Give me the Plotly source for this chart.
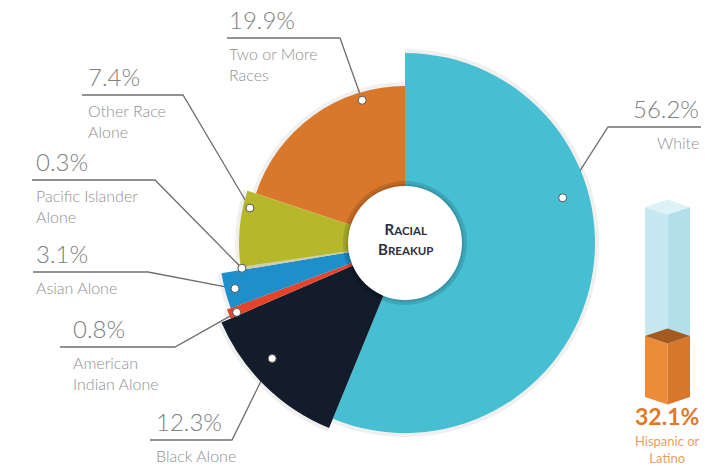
import math
import plotly.graph_objects as go

# ---------------- data ----------------
categories = ["White", "Black Alone", "American Indian Alone", "Asian Alone",
              "Pacific Islander Alone", "Other Race Alone", "Two or More Races"]
percents = [56.2, 12.3, 0.8, 3.1, 0.3, 7.4, 19.9]
pct_labels = ["56.2%", "12.3%", "0.8%", "3.1%", "0.3%", "7.4%", "19.9%"]
name_labels = ["White", "Black Alone", "American<br>Indian Alone", "Asian Alone",
               "Pacific Islander<br>Alone", "Other Race<br>Alone", "Two or More<br>Races"]
slice_radius = [190, 200, 190, 186, 167, 166, 157]
hispanic_pct = 32.1
hispanic_label = "32.1%"
hispanic_name = "Hispanic or<br>Latino"
center_title = ["RACIAL", "BREAKUP"]

# ---------------- styles / layout ----------------
colors = ["#46BFD3", "#121C2B", "#E5442B", "#1D8FCB", "#CFCBB0", "#B6B82C", "#D9782B"]
W, H = 709, 469
CX, CY, RMAX = 405, 243, 205  # polar centre (px) and radial range
HOLE = 57

# dot positions on slices (r, theta) and label layout
dot_pos = [(164, 74), (176, 229), (182, 247.6), (176, 255), (165, 261.2), (159, 282.7), (149, 343.3)]
label_layout = [
    dict(elbow=608, uy=127, x0=608, x1=701, side="right"),
    dict(elbow=232, uy=440, x0=150, x1=232, side="left", tx=154),
    dict(elbow=175, uy=347, x0=60, x1=175, side="left", tx=71),
    dict(elbow=148, uy=272, x0=33, x1=148, side="left", tx=34),
    dict(elbow=155, uy=180, x0=32, x1=155, side="left", tx=34),
    dict(elbow=183, uy=95, x0=82, x1=183, side="left", tx=86),
    dict(elbow=340, uy=38, x0=227, x1=340, side="left", tx=227),
]

FONT = "Lato"
PCT_COLOR = "#808080"
NAME_COLOR = "#909090"
LINE_COLOR = "#6f6f6f"

fig = go.Figure()

# slices
theta_c, start = [], 0.0
for p in percents:
    w = p * 3.6
    theta_c.append(start + w / 2)
    start += w
widths = [p * 3.6 for p in percents]

# subtle shadow under slices
fig.add_trace(go.Barpolar(r=[r + 4 for r in slice_radius], theta=theta_c, width=widths,
                          marker=dict(color="rgba(0,0,0,0.06)", line=dict(width=0)),
                          hoverinfo="skip", showlegend=False))
fig.add_trace(go.Barpolar(r=slice_radius, theta=theta_c, width=widths,
                          marker=dict(color=colors, line=dict(width=0)),
                          text=categories, hoverinfo="text", showlegend=False))
# centre circle with shadow
fig.add_trace(go.Barpolar(r=[HOLE + 5], theta=[180], width=[360],
                          marker=dict(color="rgba(0,0,0,0.12)", line=dict(width=0)),
                          hoverinfo="skip", showlegend=False))
fig.add_trace(go.Barpolar(r=[HOLE + 2], theta=[180], width=[360],
                          marker=dict(color="rgba(0,0,0,0.10)", line=dict(width=0)),
                          hoverinfo="skip", showlegend=False))
fig.add_trace(go.Barpolar(r=[HOLE], theta=[180], width=[360],
                          marker=dict(color="white", line=dict(width=0)),
                          hoverinfo="skip", showlegend=False))
# dots
fig.add_trace(go.Scatterpolar(r=[d[0] for d in dot_pos], theta=[d[1] for d in dot_pos],
                              mode="markers",
                              marker=dict(size=8, color="white", line=dict(color="#555", width=1)),
                              hoverinfo="skip", showlegend=False))

# leader lines (pixel overlay axes x3/y3)
annotations = []
for i, lay in enumerate(label_layout):
    r, th = dot_pos[i]
    dx = CX + r * math.sin(math.radians(th))
    dy = CY - r * math.cos(math.radians(th))
    if lay["side"] == "right":
        xs = [dx, lay["x0"], lay["x1"]]
    else:
        xs = [dx, lay["x1"], lay["x0"]]
    ys = [dy, lay["uy"], lay["uy"]]
    fig.add_trace(go.Scatter(x=xs, y=ys, xaxis="x3", yaxis="y3", mode="lines",
                             line=dict(color=LINE_COLOR, width=1.3),
                             hoverinfo="skip", showlegend=False))
    if lay["side"] == "right":
        ax, xanchor = lay["x1"], "right"
    else:
        ax, xanchor = lay["tx"], "left"
    annotations.append(dict(x=ax, y=lay["uy"] - 2, xref="x3", yref="y3", text=pct_labels[i],
                            showarrow=False, xanchor=xanchor, yanchor="bottom",
                            font=dict(family=FONT, size=24, color=PCT_COLOR, weight=300)))
    annotations.append(dict(x=ax, y=lay["uy"] + 4, xref="x3", yref="y3", text=name_labels[i],
                            showarrow=False, xanchor=xanchor, yanchor="top", align=xanchor,
                            font=dict(family=FONT, size=16, color=NAME_COLOR, weight=300)))

# centre title (small caps style)
def small_caps(word):
    return "<b>%s<span style='font-size:11.5px'>%s</span></b>" % (word[0], word[1:])

annotations.append(dict(x=CX, y=CY - 4, xref="x3", yref="y3",
                        text=small_caps(center_title[0]) + "<br>" + small_caps(center_title[1]),
                        showarrow=False, xanchor="center", yanchor="middle",
                        font=dict(family=FONT, size=15, color="#2b2f3d")))

# 3D column for Hispanic share (axes x2/y2)
d = 4.0
def faces(a, b):
    left = ([0, 1, 1, 0, 0], [a, a - d, b - d, b, a])
    right = ([1, 2, 2, 1, 1], [a - d, a, b, b - d, a - d])
    top = ([0, 1, 2, 1, 0], [b, b + d, b, b - d, b])
    return left, right, top

segments = [
    (0, hispanic_pct, ["#EC8B3A", "#D8762A", "#A55A22"]),
    (hispanic_pct, 100, ["#C6E8F0", "#B3DFEA", "#DDF2F7"]),
]
for a, b, cols in segments:
    for (xs, ys), c in zip(faces(a, b), cols):
        fig.add_trace(go.Scatter(x=xs, y=ys, xaxis="x2", yaxis="y2", mode="lines",
                                 fill="toself", fillcolor=c, line=dict(width=0, color=c),
                                 hoverinfo="skip", showlegend=False))
xs, ys = faces(0, hispanic_pct)[2]
fig.add_trace(go.Scatter(x=xs, y=ys, xaxis="x2", yaxis="y2", mode="lines", fill="toself",
                         fillcolor="#A55A22", line=dict(width=0, color="#A55A22"),
                         hoverinfo="skip", showlegend=False))

annotations.append(dict(x=667, y=416, xref="x3", yref="y3", text="<b>%s</b>" % hispanic_label,
                        showarrow=False, xanchor="center", yanchor="middle",
                        font=dict(family=FONT, size=23, color="#E07A2A")))
annotations.append(dict(x=667, y=431, xref="x3", yref="y3", text=hispanic_name,
                        showarrow=False, xanchor="center", yanchor="top",
                        font=dict(family=FONT, size=13, color="#E9A062")))

px_per_unit = 1.9
y2_bot = 397 + 5 * px_per_unit
y2_top = 207 - 5 * px_per_unit

fig.update_layout(
    width=W, height=H,
    margin=dict(l=0, r=0, t=0, b=0),
    paper_bgcolor="white", plot_bgcolor="rgba(0,0,0,0)",
    showlegend=False,
    polar=dict(
        domain=dict(x=[(CX - RMAX) / W, (CX + RMAX) / W],
                    y=[(H - CY - RMAX) / H, (H - CY + RMAX) / H]),
        bgcolor="rgba(0,0,0,0)",
        bargap=0,
        barmode="overlay",
        radialaxis=dict(range=[0, RMAX], visible=False, showgrid=False),
        angularaxis=dict(rotation=90, direction="clockwise", visible=False, showgrid=False),
    ),
    xaxis2=dict(domain=[645 / W, 690 / W], range=[0, 2], visible=False, fixedrange=True,
                anchor="y2"),
    yaxis2=dict(domain=[(H - y2_bot) / H, (H - y2_top) / H], range=[-5, 105],
                visible=False, fixedrange=True, anchor="x2"),
    xaxis3=dict(domain=[0, 1], range=[0, W], visible=False, fixedrange=True, anchor="y3"),
    yaxis3=dict(domain=[0, 1], range=[H, 0], visible=False, fixedrange=True, anchor="x3"),
    annotations=annotations,
)

fig.write_html("out.html", config={"displayModeBar": False})
# remove default page margin so the figure sits at the window's top-left corner
with open("out.html", "r", encoding="utf-8") as f:
    html = f.read()
html = html.replace("<head>", "<head><style>html,body{margin:0;padding:0;overflow:hidden;}</style>", 1)
with open("out.html", "w", encoding="utf-8") as f:
    f.write(html)
